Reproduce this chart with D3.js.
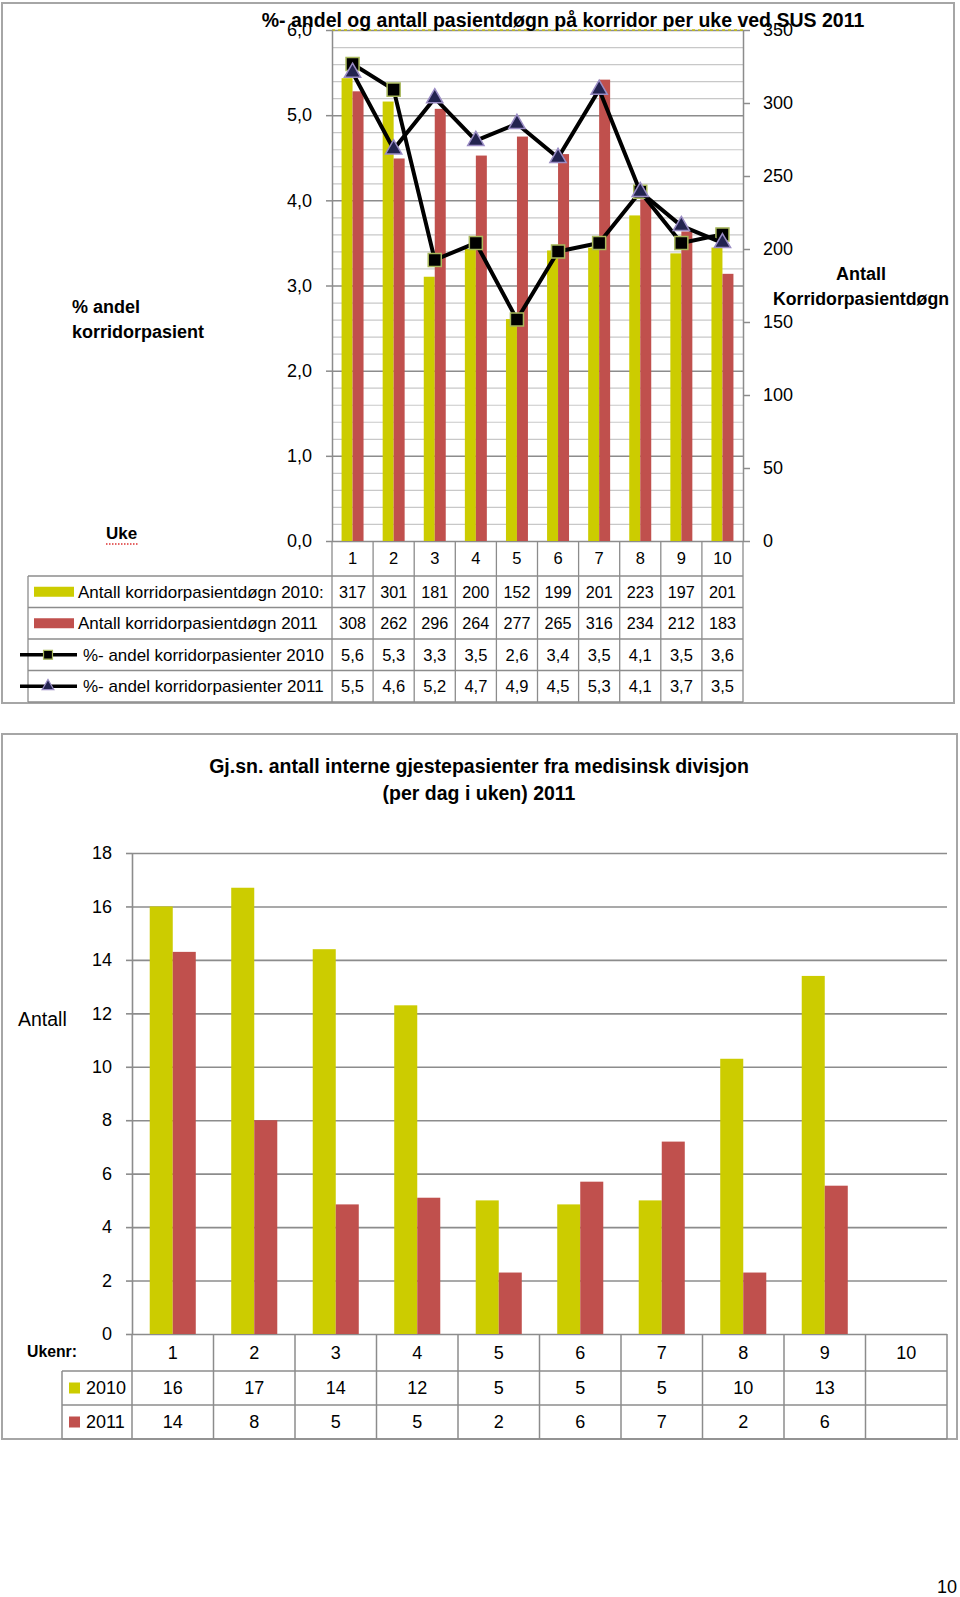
<!DOCTYPE html>
<html><head><meta charset="utf-8">
<script src="https://cdn.jsdelivr.net/npm/d3@7"></script>
<style>
html,body{margin:0;padding:0;background:#fff;}
svg{display:block;font-family:"Liberation Sans",Arial,sans-serif;}
</style></head><body>
<svg id="c" width="960" height="1597"></svg>
<script>
// ---------- DATA: top chart ----------
const weeks = ["1","2","3","4","5","6","7","8","9","10"];
const antall2010 = [317,301,181,200,152,199,201,223,197,201];
const antall2011 = [308,262,296,264,277,265,316,234,212,183];
const andel2010 = [5.6,5.3,3.3,3.5,2.6,3.4,3.5,4.1,3.5,3.6];
const andel2011 = [5.5,4.6,5.2,4.7,4.9,4.5,5.3,4.1,3.7,3.5];
const leftTicks = [0,1,2,3,4,5,6];
const rightTicks = [0,50,100,150,200,250,300,350];
const topTitle = "%- andel og antall pasientdøgn på korridor per uke ved SUS 2011";
const rowLabels = ["Antall korridorpasientdøgn 2010:","Antall korridorpasientdøgn 2011","%- andel korridorpasienter 2010","%- andel korridorpasienter 2011"];

// ---------- DATA: bottom chart ----------
const ukenr = ["1","2","3","4","5","6","7","8","9","10"];
const gjest2010 = [16.0,16.7,14.4,12.3,5.0,4.85,5.0,10.3,13.4,null];
const gjest2011 = [14.3,8.0,4.85,5.1,2.3,5.7,7.2,2.3,5.55,null];
const gjest2010Lbl = ["16","17","14","12","5","5","5","10","13",""];
const gjest2011Lbl = ["14","8","5","5","2","6","7","2","6",""];
const gjestTicks = [0,2,4,6,8,10,12,14,16,18];
const bottomTitle = ["Gj.sn. antall interne gjestepasienter fra medisinsk divisjon","(per dag i uken) 2011"];

// ---------- helpers ----------
const YEL = "#CCCC00", RED = "#C0504D", GRID = "#8C8C8C", LGRID = "#C8C8C8";
const svg = d3.select("#c");
function fit(sel, w){ sel.each(function(){ const L=this.getComputedTextLength(); if(L>w){ d3.select(this).attr("textLength",w).attr("lengthAdjust","spacingAndGlyphs"); } }); return sel; }
const nb = d3.formatLocale({decimal:",",thousands:" ",grouping:[3],currency:["","kr"]});
const f1 = nb.format(".1f");
function txt(g,x,y,s,size,opts={}){
  const t=g.append("text").attr("x",x).attr("y",y).text(s).attr("font-size",size).attr("fill","#000");
  if(opts.bold) t.attr("font-weight","bold");
  if(opts.anchor) t.attr("text-anchor",opts.anchor);
  if(opts.dy) t.attr("dy",opts.dy);
  if(opts.w) fit(t,opts.w);
  return t;
}
function hline(g,x1,x2,y,c,w){ g.append("line").attr("x1",x1).attr("x2",x2).attr("y1",y).attr("y2",y).attr("stroke",c).attr("stroke-width",w); }
function vline(g,x,y1,y2,c,w){ g.append("line").attr("x1",x).attr("x2",x).attr("y1",y1).attr("y2",y2).attr("stroke",c).attr("stroke-width",w); }

// ================= TOP CHART =================
const P = {L:332,R:743,T:30,B:541};
const topG = svg.append("g");
topG.append("rect").attr("x",2).attr("y",3).attr("width",952).attr("height",700)
  .attr("fill","#fff").attr("stroke","#A6A6A6").attr("stroke-width",2);

const x1 = d3.scaleBand().domain(weeks).range([P.L,P.R]);
const s1 = d3.scaleBand().domain(["2010","2011"]).range([0,x1.bandwidth()]).paddingOuter(0.87);
const yL = d3.scaleLinear().domain([0,6]).range([P.B,P.T]);
const yR = d3.scaleLinear().domain([0,350]).range([P.B,P.T]);

// gridlines
const minor = yL.ticks(30).filter(v=>Math.abs(v-Math.round(v))>1e-6);
topG.append("g").attr("transform",`translate(${P.L},0)`)
  .call(d3.axisLeft(yL).tickValues(minor).tickSize(-(P.R-P.L)).tickFormat(""))
  .call(g=>g.select(".domain").remove())
  .call(g=>g.selectAll("line").attr("stroke",LGRID).attr("stroke-width",1.2));
topG.append("g").attr("transform",`translate(${P.L},0)`)
  .call(d3.axisLeft(yL).tickValues(leftTicks).tickSize(-(P.R-P.L)).tickFormat(""))
  .call(g=>g.select(".domain").remove())
  .call(g=>g.selectAll("line").attr("stroke",GRID).attr("stroke-width",1.5));
topG.append("line").attr("x1",P.L).attr("x2",P.R).attr("y1",yL(6)).attr("y2",yL(6))
  .attr("stroke","#C9C400").attr("stroke-width",1.5).attr("stroke-dasharray","3,3");

// bars
const barsG = topG.append("g");
barsG.selectAll("rect.b10").data(antall2010).join("rect").attr("class","b10")
  .attr("x",(d,i)=>x1(weeks[i])+s1("2010")).attr("width",s1.bandwidth())
  .attr("y",d=>yR(d)).attr("height",d=>yR(0)-yR(d)).attr("fill",YEL);
barsG.selectAll("rect.b11").data(antall2011).join("rect").attr("class","b11")
  .attr("x",(d,i)=>x1(weeks[i])+s1("2011")).attr("width",s1.bandwidth())
  .attr("y",d=>yR(d)).attr("height",d=>yR(0)-yR(d)).attr("fill",RED);

// axes
const axL = topG.append("g").attr("transform",`translate(${P.L},0)`)
  .call(d3.axisLeft(yL).tickValues(leftTicks).tickFormat(f1).tickSize(6).tickSizeOuter(0).tickPadding(14));
const axR = topG.append("g").attr("transform",`translate(${P.R},0)`)
  .call(d3.axisRight(yR).tickValues(rightTicks).tickSize(7).tickSizeOuter(0).tickPadding(13));
[axL,axR].forEach(a=>{
  a.attr("font-family",null).attr("font-size",null);
  a.select(".domain").attr("stroke",GRID).attr("stroke-width",1.5);
  a.selectAll(".tick line").attr("stroke",GRID).attr("stroke-width",1.5);
  a.selectAll(".tick text").attr("font-size",18).attr("fill","#000");
});

// lines
const cx = (i)=>x1(weeks[i])+x1.bandwidth()/2;
const lineGen = d3.line().x((d,i)=>cx(i)).y(d=>yL(d));
const sq = d3.symbol(d3.symbolSquare,170);
const tri = d3.symbol(d3.symbolTriangle,115);
topG.append("path").datum(andel2010).attr("d",lineGen).attr("fill","none").attr("stroke","#000").attr("stroke-width",4).attr("stroke-linejoin","round");
topG.selectAll("path.m10").data(andel2010).join("path").attr("class","m10")
  .attr("transform",(d,i)=>`translate(${cx(i)},${yL(d)})`).attr("d",sq)
  .attr("fill","#000").attr("stroke","#A9B95C").attr("stroke-width",1.5);
topG.append("path").datum(andel2011).attr("d",lineGen).attr("fill","none").attr("stroke","#000").attr("stroke-width",4).attr("stroke-linejoin","round");
topG.selectAll("path.m11").data(andel2011).join("path").attr("class","m11")
  .attr("transform",(d,i)=>`translate(${cx(i)},${yL(d)})`).attr("d",tri)
  .attr("fill","#23234F").attr("stroke","#9A8CC4").attr("stroke-width",1.5);

// data table
const tb = topG.append("g");
const rowsY = [576,607.5,639,670.5,702];
weeks.forEach(w=>vline(tb,x1(w),P.B,rowsY[4],GRID,1.3));
vline(tb,P.R,P.B,rowsY[4],GRID,1.3);
rowsY.forEach(y=>hline(tb,28,P.R,y,GRID,1.3));
vline(tb,28,rowsY[0],rowsY[4],GRID,1.3);
weeks.forEach((w,i)=>txt(tb,cx(i),(P.B+rowsY[0])/2,w,16.5,{anchor:"middle",dy:"0.36em"}));
const rowVals = [antall2010.map(String),antall2011.map(String),andel2010.map(f1),andel2011.map(f1)];
rowVals.forEach((vals,r)=>{
  const cy=(rowsY[r]+rowsY[r+1])/2;
  vals.forEach((v,i)=>txt(tb,cx(i),cy,v,16.5,{anchor:"middle",dy:"0.36em",w:27}));
});
// row labels + keys
[0,1].forEach(r=>{
  const cy=(rowsY[r]+rowsY[r+1])/2;
  tb.append("rect").attr("x",34).attr("y",cy-5).attr("width",40).attr("height",10).attr("fill",r===0?YEL:RED);
  txt(tb,78,cy,rowLabels[r],17,{dy:"0.36em",w:r===0?247:242});
});
[2,3].forEach(r=>{
  const cy=(rowsY[r]+rowsY[r+1])/2;
  hline(tb,20,77,cy,"#000",3.5);
  tb.append("path").attr("transform",`translate(48,${cy})`)
    .attr("d",r===2?d3.symbol(d3.symbolSquare,80):d3.symbol(d3.symbolTriangle,60))
    .attr("fill",r===2?"#000":"#23234F").attr("stroke",r===2?"#A9B95C":"#9A8CC4").attr("stroke-width",1.2);
  txt(tb,83,cy,rowLabels[r],17,{dy:"0.36em",w:241});
});

// side labels
txt(topG,72,313,"% andel",18,{bold:true});
txt(topG,72,338,"korridorpasient",18,{bold:true,w:134});
txt(topG,861,280,"Antall",18,{bold:true,anchor:"middle"});
txt(topG,861,305,"Korridorpasientdøgn",18,{bold:true,anchor:"middle",w:176});
txt(topG,106,539,"Uke",17,{bold:true,w:32});
topG.append("line").attr("x1",106).attr("x2",138).attr("y1",544).attr("y2",544)
  .attr("stroke","#D33").attr("stroke-width",1.5).attr("stroke-dasharray","1.5,1.5");
// title
txt(topG,563,27,topTitle,19.5,{bold:true,anchor:"middle",w:603});

// ================= BOTTOM CHART =================
const Q = {L:132,R:947,T:853,B:1334};
const botG = svg.append("g");
botG.append("rect").attr("x",2).attr("y",734).attr("width",955).attr("height",705)
  .attr("fill","#fff").attr("stroke","#A6A6A6").attr("stroke-width",2);

const x2 = d3.scaleBand().domain(ukenr).range([Q.L,Q.R]);
const s2 = d3.scaleBand().domain(["2010","2011"]).range([0,x2.bandwidth()]).paddingOuter(0.77);
const y2 = d3.scaleLinear().domain([0,18]).range([Q.B,Q.T]);

botG.append("g").attr("transform",`translate(${Q.L},0)`)
  .call(d3.axisLeft(y2).tickValues(gjestTicks).tickSize(-(Q.R-Q.L)).tickFormat(""))
  .call(g=>g.select(".domain").remove())
  .call(g=>g.selectAll("line").attr("stroke",GRID).attr("stroke-width",1.6));

const bb = botG.append("g");
const g10 = gjest2010.map((v,i)=>({v,i})).filter(d=>d.v!==null);
const g11 = gjest2011.map((v,i)=>({v,i})).filter(d=>d.v!==null);
bb.selectAll("rect.g10").data(g10).join("rect").attr("class","g10")
  .attr("x",d=>x2(ukenr[d.i])+s2("2010")).attr("width",s2.bandwidth())
  .attr("y",d=>y2(d.v)).attr("height",d=>y2(0)-y2(d.v)).attr("fill",YEL);
bb.selectAll("rect.g11").data(g11).join("rect").attr("class","g11")
  .attr("x",d=>x2(ukenr[d.i])+s2("2011")).attr("width",s2.bandwidth())
  .attr("y",d=>y2(d.v)).attr("height",d=>y2(0)-y2(d.v)).attr("fill",RED);

const ax2 = botG.append("g").attr("transform",`translate(${Q.L},0)`)
  .call(d3.axisLeft(y2).tickValues(gjestTicks).tickSize(6).tickSizeOuter(0).tickPadding(14));
ax2.attr("font-family",null).attr("font-size",null);
ax2.select(".domain").attr("stroke",GRID).attr("stroke-width",1.6);
ax2.selectAll(".tick line").attr("stroke",GRID).attr("stroke-width",1.6);
ax2.selectAll(".tick text").attr("font-size",18).attr("fill","#000");

// bottom table
const bt = botG.append("g");
const bRows = [Q.B,1371,1405,1439];
const cx2 = (i)=>x2(ukenr[i])+x2.bandwidth()/2;
ukenr.forEach(w=>vline(bt,x2(w),Q.B,bRows[3],GRID,1.5));
vline(bt,Q.R,Q.B,bRows[3],GRID,1.5);
vline(bt,62,bRows[1],bRows[3],GRID,1.5);
[bRows[1],bRows[2],bRows[3]].forEach(y=>hline(bt,62,Q.R,y,GRID,1.5));
ukenr.forEach((w,i)=>txt(bt,cx2(i),(bRows[0]+bRows[1])/2,w,18,{anchor:"middle",dy:"0.36em"}));
[gjest2010Lbl,gjest2011Lbl].forEach((vals,r)=>{
  const cy=(bRows[r+1]+bRows[r+2])/2;
  vals.forEach((v,i)=>txt(bt,cx2(i),cy,v,18,{anchor:"middle",dy:"0.36em"}));
  bt.append("rect").attr("x",69).attr("y",cy-5.5).attr("width",11).attr("height",11).attr("fill",r===0?YEL:RED);
  txt(bt,86,cy,r===0?"2010":"2011",18,{dy:"0.36em"});
});
txt(botG,27,1357,"Ukenr:",17,{bold:true,w:50});
txt(botG,18,1026,"Antall",19.5);
txt(botG,479,773,bottomTitle[0],19.5,{bold:true,anchor:"middle",w:590});
txt(botG,479,800,bottomTitle[1],19.5,{bold:true,anchor:"middle",w:215});

// page number
txt(svg,957,1593,"10",18,{anchor:"end"});
</script>
</body></html>
